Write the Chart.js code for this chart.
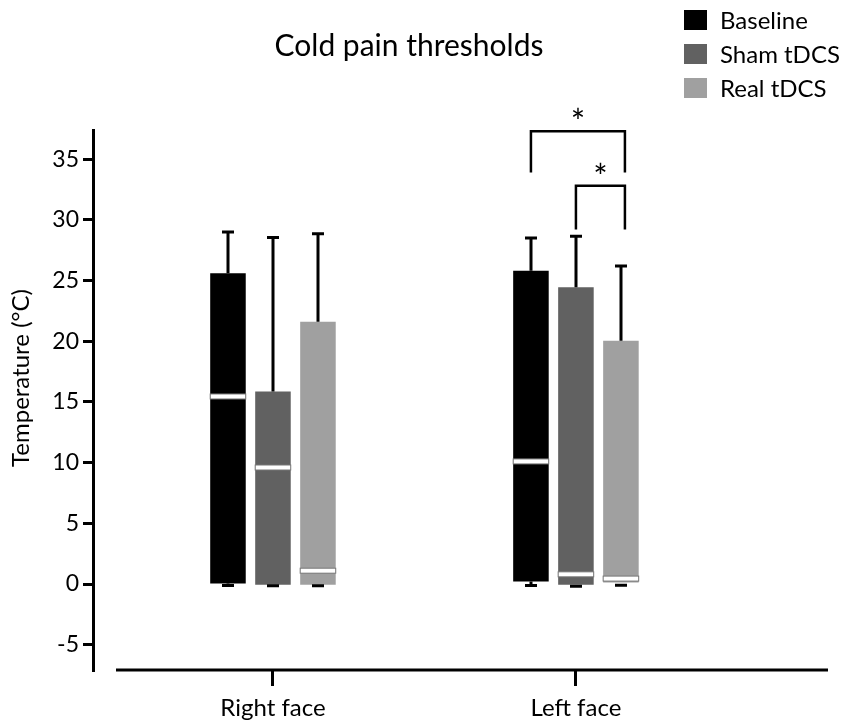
<!DOCTYPE html>
<html>
<head>
<meta charset="utf-8">
<script src="https://cdn.jsdelivr.net/npm/chart.js@4.4.1/dist/chart.umd.min.js"></script>
<style>
  html, body { margin: 0; padding: 0; background: #fff; }
  #wrap { width: 847px; height: 724px; }
</style>
</head>
<body>
<div id="wrap"><canvas id="chart"></canvas></div>
<script>
const categories = ["Right face", "Left face"]
const seriesNames = ["Baseline", "Sham tDCS", "Real tDCS"]
const seriesColors = ["#000000", "#616161", "#a0a0a0"]

// one row per series, values for [Right face, Left face]
const minValues = [[-0.12, -0.12], [-0.15, -0.18], [-0.15, -0.1]]
const q1Values = [[0.05, 0.2], [-0.05, -0.05], [-0.05, 0.0]]
const medianValues = [[15.45, 10.1], [9.6, 0.8], [1.1, 0.45]]
const q3Values = [[25.6, 25.8], [15.85, 24.45], [21.6, 20.05]]
const maxValues = [[29.0, 28.5], [28.55, 28.65], [28.85, 26.2]]

const yTicks = [-5, 0, 5, 10, 15, 20, 25, 30, 35]

// significance brackets on "Left face": from series, to series, top, leg end
const bracketCategory = 1
const bracketFrom = [0, 1]
const bracketTo = [2, 2]
const bracketTop = [37.3, 32.8]
const bracketLegEnd = [33.9, 29.2]

const FONT = "Lato, 'Open Sans', sans-serif"

const datasets = seriesNames.map((name, s) => ({
  label: name,
  data: categories.map((c, i) => ({ x: i + 1, y: [q1Values[s][i], q3Values[s][i]] })),
  backgroundColor: seriesColors[s],
  borderWidth: 0,
  categoryPercentage: 0.4455,
  barPercentage: 0.79,
}))

const extras = {
  id: "extras",
  afterDatasetsDraw(chart) {
    const ctx = chart.ctx
    const y = chart.scales.y
    ctx.save()
    ctx.strokeStyle = "#000"
    ctx.lineWidth = 3
    chart.data.datasets.forEach((ds, s) => {
      chart.getDatasetMeta(s).data.forEach((bar, i) => {
        const x = Math.round(bar.x)
        const half = bar.width / 2
        const yMax = y.getPixelForValue(maxValues[s][i])
        const yQ3 = y.getPixelForValue(q3Values[s][i])
        const yQ1 = y.getPixelForValue(q1Values[s][i])
        const yMin = y.getPixelForValue(minValues[s][i])
        const yMed = y.getPixelForValue(medianValues[s][i])

        // upper whisker
        ctx.beginPath()
        ctx.moveTo(x, yQ3)
        ctx.lineTo(x, yMax)
        ctx.moveTo(x - 6, yMax)
        ctx.lineTo(x + 6, yMax)
        ctx.stroke()

        // lower whisker
        ctx.beginPath()
        ctx.moveTo(x, yQ1)
        ctx.lineTo(x, yMin)
        ctx.moveTo(x - 6, yMin)
        ctx.lineTo(x + 6, yMin)
        ctx.stroke()

        // median
        ctx.fillStyle = "#fff"
        ctx.fillRect(bar.x - half, yMed - 2.5, half * 2, 5)
        ctx.lineWidth = 1
        ctx.strokeStyle = "#777"
        ctx.strokeRect(bar.x - half, yMed - 2.5, half * 2, 5)
        ctx.lineWidth = 3
        ctx.strokeStyle = "#000"
      })
    })
    ctx.restore()
  },
  afterDraw(chart) {
    const ctx = chart.ctx
    const { left, right, bottom } = chart.chartArea
    const y = chart.scales.y
    ctx.save()

    // detached x axis line
    ctx.strokeStyle = "#000"
    ctx.lineWidth = 3
    ctx.beginPath()
    ctx.moveTo(left + 23, bottom)
    ctx.lineTo(right, bottom)
    ctx.stroke()

    // brackets
    ctx.lineWidth = 2.5
    ctx.fillStyle = "#000"
    ctx.textAlign = "center"
    ctx.textBaseline = "middle"
    ctx.font = "34px " + FONT
    bracketFrom.forEach((from, k) => {
      const x1 = chart.getDatasetMeta(from).data[bracketCategory].x
      const x2 = chart.getDatasetMeta(bracketTo[k]).data[bracketCategory].x + 4
      const yt = y.getPixelForValue(bracketTop[k])
      const yl = y.getPixelForValue(bracketLegEnd[k])
      ctx.beginPath()
      ctx.moveTo(x1, yl)
      ctx.lineTo(x1, yt)
      ctx.lineTo(x2, yt)
      ctx.lineTo(x2, yl)
      ctx.stroke()
      ctx.fillText("*", (x1 + x2) / 2, yt - 8)
    })

    // title
    ctx.font = "30px " + FONT
    ctx.textBaseline = "alphabetic"
    ctx.fillText("Cold pain thresholds", 409, 56)

    // y axis title
    ctx.save()
    ctx.translate(29, 378)
    ctx.rotate(-Math.PI / 2)
    ctx.font = "24px " + FONT
    ctx.fillText("Temperature (°C)", 0, 0)
    ctx.restore()

    // legend
    ctx.font = "24px " + FONT
    ctx.textAlign = "left"
    ctx.textBaseline = "middle"
    seriesNames.forEach((name, s) => {
      const cy = 20 + s * 34
      ctx.fillStyle = seriesColors[s]
      ctx.fillRect(684, cy - 10, 23, 20)
      ctx.fillStyle = "#000"
      ctx.fillText(name, 720, cy + 1)
    })
    ctx.restore()
  },
}

new Chart(document.getElementById("chart"), {
  type: "bar",
  data: { datasets },
  plugins: [extras],
  options: {
    responsive: true,
    maintainAspectRatio: false,
    animation: false,
    layout: { padding: { top: 130, right: 19, left: 0, bottom: 0 } },
    plugins: {
      legend: { display: false },
      title: { display: false },
      tooltip: { enabled: false },
    },
    scales: {
      x: {
        type: "linear",
        min: 0.406,
        max: 2.832,
        offset: false,
        afterBuildTicks: (scale) => {
          scale.ticks = categories.map((c, i) => ({ value: i + 1 }))
        },
        afterFit: (scale) => { scale.height = 54 },
        border: { display: false },
        grid: {
          offset: false,
          drawOnChartArea: false,
          drawTicks: true,
          tickLength: 16,
          lineWidth: 3,
          color: "#000",
        },
        ticks: {
          color: "#000",
          font: { family: FONT, size: 24 },
          padding: 8,
          maxRotation: 0,
          callback: (v) => categories[v - 1] || "",
        },
      },
      y: {
        min: -7.08,
        max: 37.4,
        afterBuildTicks: (scale) => {
          scale.ticks = yTicks.map((v) => ({ value: v }))
        },
        afterFit: (scale) => { scale.width = 93 },
        border: { display: true, color: "#000", width: 3 },
        grid: {
          drawOnChartArea: false,
          drawTicks: true,
          tickLength: 10,
          lineWidth: 3,
          color: "#000",
        },
        ticks: {
          color: "#000",
          font: { family: FONT, size: 23 },
          padding: 4,
        },
      },
    },
  },
})
</script>
</body>
</html>
